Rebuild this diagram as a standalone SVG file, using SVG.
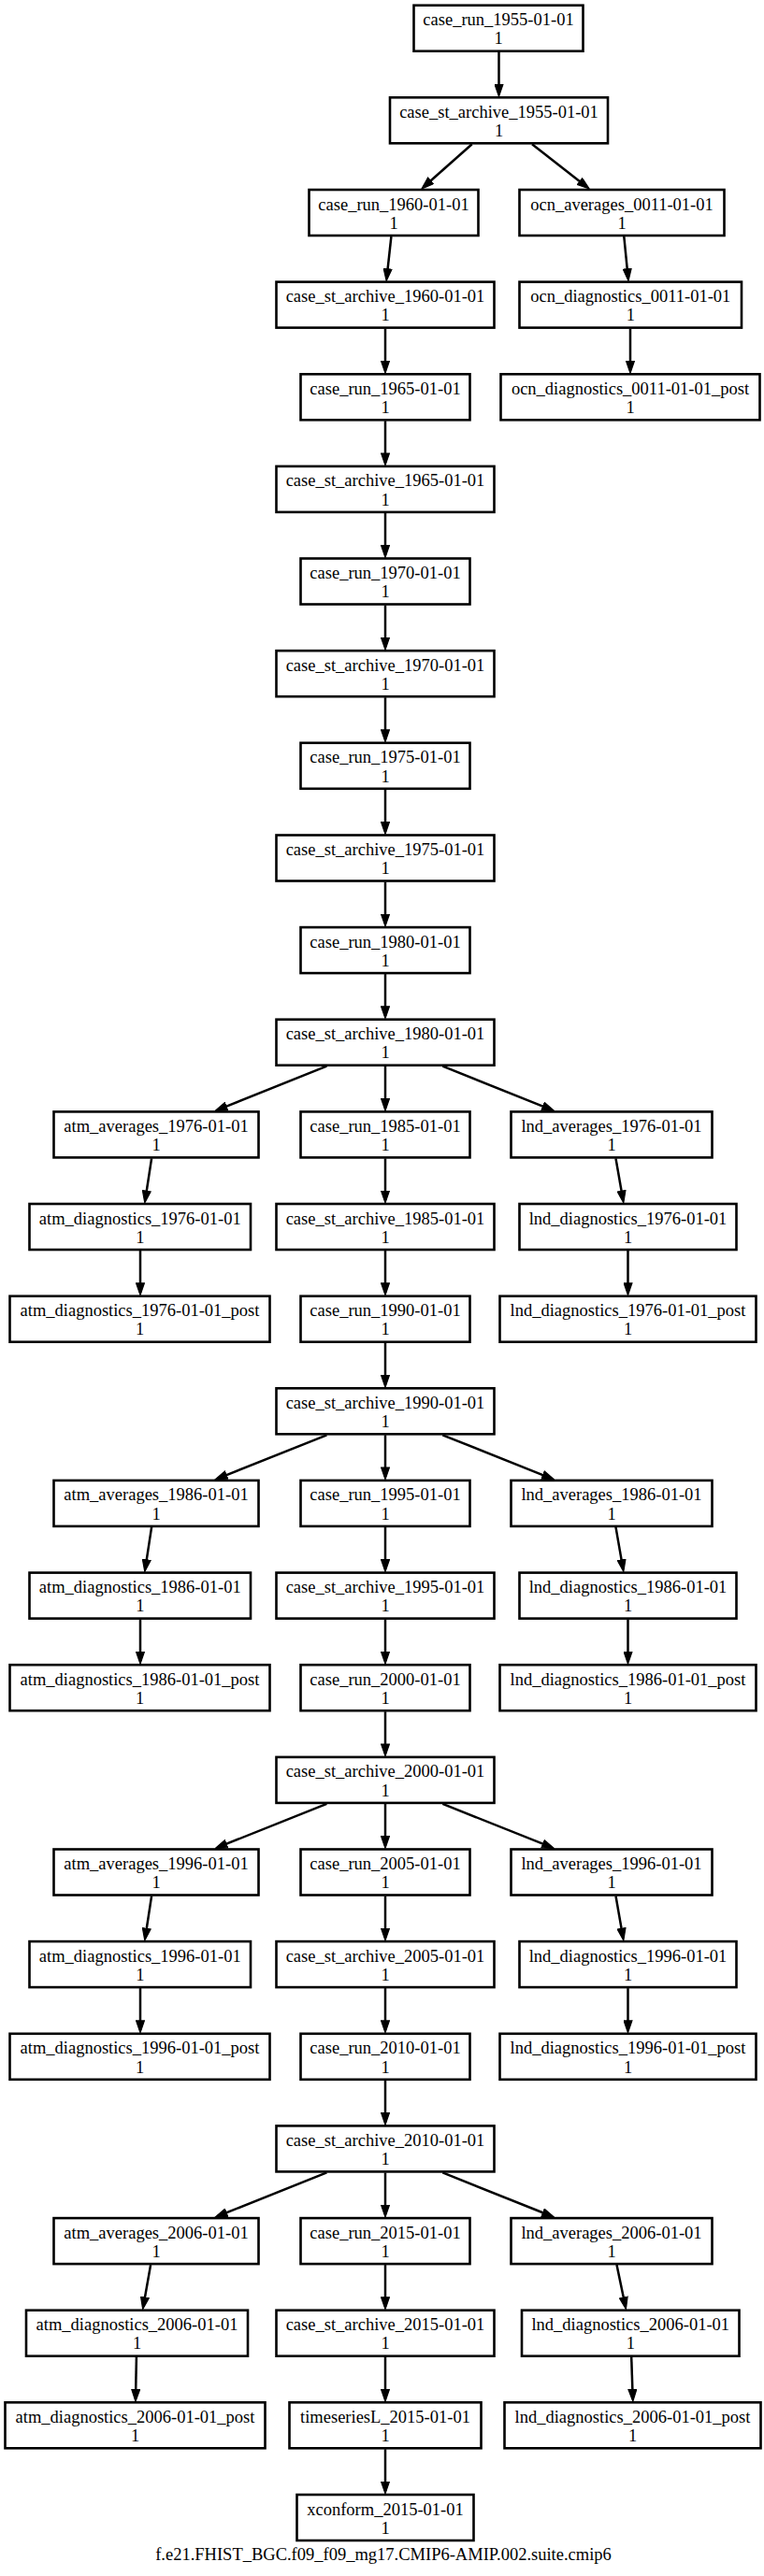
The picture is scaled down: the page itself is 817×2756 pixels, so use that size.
<svg xmlns="http://www.w3.org/2000/svg" width="817" height="2756" viewBox="0 0 817 2756">
<style>
.n rect{fill:#fff;stroke:#000;stroke-width:2.6}
text{font-family:"Liberation Serif","Times New Roman",serif;font-size:18.5px;text-anchor:middle;fill:#000}
.n text{transform:translateY(0.8px)}
.e path{stroke:#000;stroke-width:2.5;fill:none;marker-end:url(#ah)}
</style>
<defs>
<marker id="ah" markerUnits="userSpaceOnUse" viewBox="0 0 14 10" refX="10.5" refY="5" markerWidth="14" markerHeight="10" orient="auto"><path d="M0.6,0.6 L13.4,5 L0.6,9.4 z" fill="#000" stroke="#000" stroke-width="1.2"/></marker>
</defs>
<rect width="817" height="2756" fill="#fff"/>
<g class="e" id="edges">
<path d="M533.5,55.7 L533.5,100.3"/>
<path d="M504.7,154.3 L453.1,200.0"/>
<path d="M569,154.3 L627.8,200.2"/>
<path d="M418.4,253.0 L413.5,297.6"/>
<path d="M667.3,253.0 L671.7,297.6"/>
<path d="M412,351.6 L412,396.3"/>
<path d="M674,351.6 L674,396.3"/>
<path d="M412,450.3 L412,494.9"/>
<path d="M412,548.9 L412,593.5"/>
<path d="M412,647.5 L412,692.2"/>
<path d="M412,746.2 L412,790.8"/>
<path d="M412,844.8 L412,889.5"/>
<path d="M412,943.5 L412,988.1"/>
<path d="M412,1042.1 L412,1086.7"/>
<path d="M412,1140.7 L412,1185.4"/>
<path d="M412,1239.4 L412,1284.0"/>
<path d="M412,1338.0 L412,1382.7"/>
<path d="M412,1436.7 L412,1481.3"/>
<path d="M412,1535.3 L412,1579.9"/>
<path d="M412,1633.9 L412,1678.6"/>
<path d="M412,1732.6 L412,1777.2"/>
<path d="M412,1831.2 L412,1875.9"/>
<path d="M412,1929.9 L412,1974.5"/>
<path d="M412,2028.5 L412,2073.1"/>
<path d="M412,2127.1 L412,2171.8"/>
<path d="M412,2225.8 L412,2270.4"/>
<path d="M412,2324.4 L412,2369.1"/>
<path d="M412,2423.1 L412,2467.7"/>
<path d="M412,2521.7 L412,2566.3"/>
<path d="M412,2620.3 L412,2665.0"/>
<path d="M349.4,1140.7 L232.9,1187.3"/>
<path d="M473.3,1140.7 L589.8,1187.3"/>
<path d="M349.4,1535.3 L232.9,1581.8"/>
<path d="M473.3,1535.3 L589.8,1581.8"/>
<path d="M349.4,1929.9 L232.9,1976.4"/>
<path d="M473.3,1929.9 L589.8,1976.4"/>
<path d="M349.4,2324.4 L232.9,2371.0"/>
<path d="M473.3,2324.4 L589.8,2371.0"/>
<path d="M162.1,1239.4 L155.25,1284.0"/>
<path d="M150,1338.0 L150,1382.7"/>
<path d="M658.5,1239.4 L666.3,1284.0"/>
<path d="M671.5,1338.0 L671.5,1382.7"/>
<path d="M162.1,1633.9 L155.25,1678.6"/>
<path d="M150,1732.6 L150,1777.2"/>
<path d="M658.5,1633.9 L666.3,1678.6"/>
<path d="M671.5,1732.6 L671.5,1777.2"/>
<path d="M162.1,2028.5 L155.25,2073.1"/>
<path d="M150,2127.1 L150,2171.8"/>
<path d="M658.5,2028.5 L666.3,2073.1"/>
<path d="M671.5,2127.1 L671.5,2171.8"/>
<path d="M161.1,2423.1 L153.2,2467.7"/>
<path d="M145.9,2521.7 L145.0,2566.3"/>
<path d="M659.5,2423.1 L668.8,2467.7"/>
<path d="M675.2,2521.7 L676.7,2566.3"/>
</g>
<g class="n" id="case_run_1955-01-01"><rect x="442.5" y="5.7" width="181" height="49"/><text x="533" y="26.5">case_run_1955-01-01</text><text x="533" y="46.7">1</text></g>
<g class="n" id="case_st_archive_1955-01-01"><rect x="417" y="104.3" width="233" height="49"/><text x="533.5" y="125.1">case_st_archive_1955-01-01</text><text x="533.5" y="145.3">1</text></g>
<g class="n" id="case_run_1960-01-01"><rect x="330.5" y="203.0" width="181" height="49"/><text x="421" y="223.8">case_run_1960-01-01</text><text x="421" y="244.0">1</text></g>
<g class="n" id="ocn_averages_0011-01-01"><rect x="555.5" y="203.0" width="219" height="49"/><text x="665" y="223.8">ocn_averages_0011-01-01</text><text x="665" y="244.0">1</text></g>
<g class="n" id="case_st_archive_1960-01-01"><rect x="295.5" y="301.6" width="233" height="49"/><text x="412" y="322.4">case_st_archive_1960-01-01</text><text x="412" y="342.6">1</text></g>
<g class="n" id="ocn_diagnostics_0011-01-01"><rect x="555.5" y="301.6" width="237.5" height="49"/><text x="674.25" y="322.4">ocn_diagnostics_0011-01-01</text><text x="674.25" y="342.6">1</text></g>
<g class="n" id="case_run_1965-01-01"><rect x="321.5" y="400.3" width="181" height="49"/><text x="412" y="421.1">case_run_1965-01-01</text><text x="412" y="441.3">1</text></g>
<g class="n" id="ocn_diagnostics_0011-01-01_post"><rect x="535.5" y="400.3" width="277" height="49"/><text x="674" y="421.1">ocn_diagnostics_0011-01-01_post</text><text x="674" y="441.3">1</text></g>
<g class="n" id="case_st_archive_1965-01-01"><rect x="295.5" y="498.9" width="233" height="49"/><text x="412" y="519.7">case_st_archive_1965-01-01</text><text x="412" y="539.9">1</text></g>
<g class="n" id="case_run_1970-01-01"><rect x="321.5" y="597.5" width="181" height="49"/><text x="412" y="618.3">case_run_1970-01-01</text><text x="412" y="638.5">1</text></g>
<g class="n" id="case_st_archive_1970-01-01"><rect x="295.5" y="696.2" width="233" height="49"/><text x="412" y="717.0">case_st_archive_1970-01-01</text><text x="412" y="737.2">1</text></g>
<g class="n" id="case_run_1975-01-01"><rect x="321.5" y="794.8" width="181" height="49"/><text x="412" y="815.6">case_run_1975-01-01</text><text x="412" y="835.8">1</text></g>
<g class="n" id="case_st_archive_1975-01-01"><rect x="295.5" y="893.5" width="233" height="49"/><text x="412" y="914.3">case_st_archive_1975-01-01</text><text x="412" y="934.5">1</text></g>
<g class="n" id="case_run_1980-01-01"><rect x="321.5" y="992.1" width="181" height="49"/><text x="412" y="1012.9">case_run_1980-01-01</text><text x="412" y="1033.1">1</text></g>
<g class="n" id="case_st_archive_1980-01-01"><rect x="295.5" y="1090.7" width="233" height="49"/><text x="412" y="1111.5">case_st_archive_1980-01-01</text><text x="412" y="1131.7">1</text></g>
<g class="n" id="atm_averages_1976-01-01"><rect x="57.5" y="1189.4" width="219" height="49"/><text x="167" y="1210.2">atm_averages_1976-01-01</text><text x="167" y="1230.4">1</text></g>
<g class="n" id="case_run_1985-01-01"><rect x="321.5" y="1189.4" width="181" height="49"/><text x="412" y="1210.2">case_run_1985-01-01</text><text x="412" y="1230.4">1</text></g>
<g class="n" id="lnd_averages_1976-01-01"><rect x="546.5" y="1189.4" width="215" height="49"/><text x="654" y="1210.2">lnd_averages_1976-01-01</text><text x="654" y="1230.4">1</text></g>
<g class="n" id="atm_diagnostics_1976-01-01"><rect x="31.5" y="1288.0" width="236.5" height="49"/><text x="149.75" y="1308.8">atm_diagnostics_1976-01-01</text><text x="149.75" y="1329.0">1</text></g>
<g class="n" id="case_st_archive_1985-01-01"><rect x="295.5" y="1288.0" width="233" height="49"/><text x="412" y="1308.8">case_st_archive_1985-01-01</text><text x="412" y="1329.0">1</text></g>
<g class="n" id="lnd_diagnostics_1976-01-01"><rect x="555.5" y="1288.0" width="232" height="49"/><text x="671.5" y="1308.8">lnd_diagnostics_1976-01-01</text><text x="671.5" y="1329.0">1</text></g>
<g class="n" id="atm_diagnostics_1976-01-01_post"><rect x="10.5" y="1386.7" width="278" height="49"/><text x="149.5" y="1407.5">atm_diagnostics_1976-01-01_post</text><text x="149.5" y="1427.7">1</text></g>
<g class="n" id="case_run_1990-01-01"><rect x="321.5" y="1386.7" width="181" height="49"/><text x="412" y="1407.5">case_run_1990-01-01</text><text x="412" y="1427.7">1</text></g>
<g class="n" id="lnd_diagnostics_1976-01-01_post"><rect x="534.5" y="1386.7" width="274" height="49"/><text x="671.5" y="1407.5">lnd_diagnostics_1976-01-01_post</text><text x="671.5" y="1427.7">1</text></g>
<g class="n" id="case_st_archive_1990-01-01"><rect x="295.5" y="1485.3" width="233" height="49"/><text x="412" y="1506.1">case_st_archive_1990-01-01</text><text x="412" y="1526.3">1</text></g>
<g class="n" id="atm_averages_1986-01-01"><rect x="57.5" y="1583.9" width="219" height="49"/><text x="167" y="1604.7">atm_averages_1986-01-01</text><text x="167" y="1624.9">1</text></g>
<g class="n" id="case_run_1995-01-01"><rect x="321.5" y="1583.9" width="181" height="49"/><text x="412" y="1604.7">case_run_1995-01-01</text><text x="412" y="1624.9">1</text></g>
<g class="n" id="lnd_averages_1986-01-01"><rect x="546.5" y="1583.9" width="215" height="49"/><text x="654" y="1604.7">lnd_averages_1986-01-01</text><text x="654" y="1624.9">1</text></g>
<g class="n" id="atm_diagnostics_1986-01-01"><rect x="31.5" y="1682.6" width="236.5" height="49"/><text x="149.75" y="1703.4">atm_diagnostics_1986-01-01</text><text x="149.75" y="1723.6">1</text></g>
<g class="n" id="case_st_archive_1995-01-01"><rect x="295.5" y="1682.6" width="233" height="49"/><text x="412" y="1703.4">case_st_archive_1995-01-01</text><text x="412" y="1723.6">1</text></g>
<g class="n" id="lnd_diagnostics_1986-01-01"><rect x="555.5" y="1682.6" width="232" height="49"/><text x="671.5" y="1703.4">lnd_diagnostics_1986-01-01</text><text x="671.5" y="1723.6">1</text></g>
<g class="n" id="atm_diagnostics_1986-01-01_post"><rect x="10.5" y="1781.2" width="278" height="49"/><text x="149.5" y="1802.0">atm_diagnostics_1986-01-01_post</text><text x="149.5" y="1822.2">1</text></g>
<g class="n" id="case_run_2000-01-01"><rect x="321.5" y="1781.2" width="181" height="49"/><text x="412" y="1802.0">case_run_2000-01-01</text><text x="412" y="1822.2">1</text></g>
<g class="n" id="lnd_diagnostics_1986-01-01_post"><rect x="534.5" y="1781.2" width="274" height="49"/><text x="671.5" y="1802.0">lnd_diagnostics_1986-01-01_post</text><text x="671.5" y="1822.2">1</text></g>
<g class="n" id="case_st_archive_2000-01-01"><rect x="295.5" y="1879.9" width="233" height="49"/><text x="412" y="1900.7">case_st_archive_2000-01-01</text><text x="412" y="1920.9">1</text></g>
<g class="n" id="atm_averages_1996-01-01"><rect x="57.5" y="1978.5" width="219" height="49"/><text x="167" y="1999.3">atm_averages_1996-01-01</text><text x="167" y="2019.5">1</text></g>
<g class="n" id="case_run_2005-01-01"><rect x="321.5" y="1978.5" width="181" height="49"/><text x="412" y="1999.3">case_run_2005-01-01</text><text x="412" y="2019.5">1</text></g>
<g class="n" id="lnd_averages_1996-01-01"><rect x="546.5" y="1978.5" width="215" height="49"/><text x="654" y="1999.3">lnd_averages_1996-01-01</text><text x="654" y="2019.5">1</text></g>
<g class="n" id="atm_diagnostics_1996-01-01"><rect x="31.5" y="2077.1" width="236.5" height="49"/><text x="149.75" y="2097.9">atm_diagnostics_1996-01-01</text><text x="149.75" y="2118.1">1</text></g>
<g class="n" id="case_st_archive_2005-01-01"><rect x="295.5" y="2077.1" width="233" height="49"/><text x="412" y="2097.9">case_st_archive_2005-01-01</text><text x="412" y="2118.1">1</text></g>
<g class="n" id="lnd_diagnostics_1996-01-01"><rect x="555.5" y="2077.1" width="232" height="49"/><text x="671.5" y="2097.9">lnd_diagnostics_1996-01-01</text><text x="671.5" y="2118.1">1</text></g>
<g class="n" id="atm_diagnostics_1996-01-01_post"><rect x="10.5" y="2175.8" width="278" height="49"/><text x="149.5" y="2196.6">atm_diagnostics_1996-01-01_post</text><text x="149.5" y="2216.8">1</text></g>
<g class="n" id="case_run_2010-01-01"><rect x="321.5" y="2175.8" width="181" height="49"/><text x="412" y="2196.6">case_run_2010-01-01</text><text x="412" y="2216.8">1</text></g>
<g class="n" id="lnd_diagnostics_1996-01-01_post"><rect x="534.5" y="2175.8" width="274" height="49"/><text x="671.5" y="2196.6">lnd_diagnostics_1996-01-01_post</text><text x="671.5" y="2216.8">1</text></g>
<g class="n" id="case_st_archive_2010-01-01"><rect x="295.5" y="2274.4" width="233" height="49"/><text x="412" y="2295.2">case_st_archive_2010-01-01</text><text x="412" y="2315.4">1</text></g>
<g class="n" id="atm_averages_2006-01-01"><rect x="57.5" y="2373.1" width="219" height="49"/><text x="167" y="2393.9">atm_averages_2006-01-01</text><text x="167" y="2414.1">1</text></g>
<g class="n" id="case_run_2015-01-01"><rect x="321.5" y="2373.1" width="181" height="49"/><text x="412" y="2393.9">case_run_2015-01-01</text><text x="412" y="2414.1">1</text></g>
<g class="n" id="lnd_averages_2006-01-01"><rect x="546.5" y="2373.1" width="215" height="49"/><text x="654" y="2393.9">lnd_averages_2006-01-01</text><text x="654" y="2414.1">1</text></g>
<g class="n" id="atm_diagnostics_2006-01-01"><rect x="28" y="2471.7" width="237" height="49"/><text x="146.5" y="2492.5">atm_diagnostics_2006-01-01</text><text x="146.5" y="2512.7">1</text></g>
<g class="n" id="case_st_archive_2015-01-01"><rect x="295.5" y="2471.7" width="233" height="49"/><text x="412" y="2492.5">case_st_archive_2015-01-01</text><text x="412" y="2512.7">1</text></g>
<g class="n" id="lnd_diagnostics_2006-01-01"><rect x="558" y="2471.7" width="232.5" height="49"/><text x="674.25" y="2492.5">lnd_diagnostics_2006-01-01</text><text x="674.25" y="2512.7">1</text></g>
<g class="n" id="atm_diagnostics_2006-01-01_post"><rect x="5.5" y="2570.3" width="278" height="49"/><text x="144.5" y="2591.1">atm_diagnostics_2006-01-01_post</text><text x="144.5" y="2611.3">1</text></g>
<g class="n" id="timeseriesL_2015-01-01"><rect x="309.5" y="2570.3" width="205" height="49"/><text x="412" y="2591.1">timeseriesL_2015-01-01</text><text x="412" y="2611.3">1</text></g>
<g class="n" id="lnd_diagnostics_2006-01-01_post"><rect x="539.5" y="2570.3" width="274" height="49"/><text x="676.5" y="2591.1">lnd_diagnostics_2006-01-01_post</text><text x="676.5" y="2611.3">1</text></g>
<g class="n" id="xconform_2015-01-01"><rect x="317.5" y="2669.0" width="189" height="49"/><text x="412" y="2689.8">xconform_2015-01-01</text><text x="412" y="2710.0">1</text></g>
<g id="graph-label"><text x="410" y="2739">f.e21.FHIST_BGC.f09_f09_mg17.CMIP6-AMIP.002.suite.cmip6</text></g>
</svg>
